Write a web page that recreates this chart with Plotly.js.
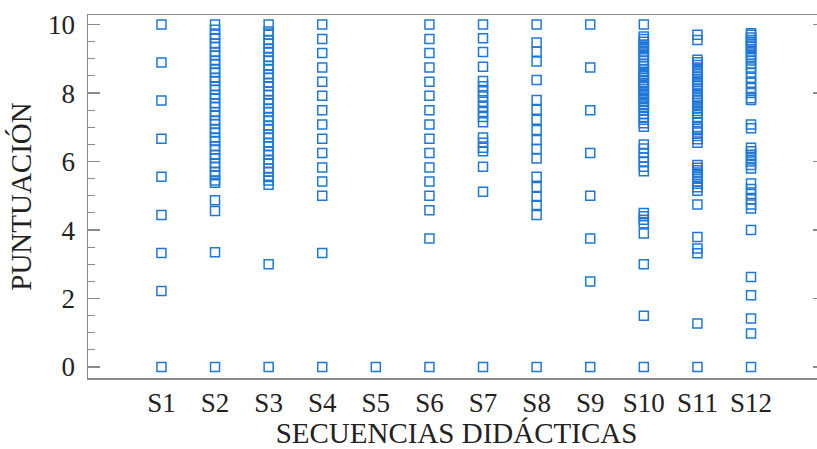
<!DOCTYPE html>
<html>
<head>
<meta charset="utf-8">
<script src="https://cdn.plot.ly/plotly-3.0.1.min.js"></script>
<style>
html,body{margin:0;padding:0;overflow:hidden;background:#fff;}
#chart{width:825px;height:449px;}
</style>
</head>
<body>
<div id="chart"></div>
<script>
const categories = ['S1','S2','S3','S4','S5','S6','S7','S8','S9','S10','S11','S12'];
const yTicks = [0, 2, 4, 6, 8, 10];

const s1 = [10, 8.89, 7.78, 6.67, 5.56, 4.44, 3.33, 2.22, 0];
const s2 = [10, 9.85, 9.7, 9.6, 9.45, 9.35, 9.2, 9.1, 8.95, 8.85, 8.7, 8.6, 8.45, 8.35, 8.2, 8.1, 7.95, 7.85, 7.7, 7.6, 7.45, 7.35, 7.2, 7.1, 6.95, 6.85, 6.7, 6.6, 6.45, 6.35, 6.2, 6.1, 5.95, 5.85, 5.7, 5.6, 5.45, 5.38, 4.87, 4.56, 3.35, 0];
const s3 = [10, 9.8, 9.7, 9.55, 9.45, 9.3, 9.2, 9.05, 8.95, 8.8, 8.7, 8.55, 8.45, 8.3, 8.2, 8.05, 7.95, 7.8, 7.7, 7.55, 7.45, 7.3, 7.2, 7.05, 6.95, 6.8, 6.7, 6.55, 6.45, 6.3, 6.2, 6.05, 5.95, 5.8, 5.7, 5.55, 5.45, 5.32, 3.0, 0];
const s4 = [10, 9.58, 9.17, 8.75, 8.33, 7.92, 7.5, 7.08, 6.67, 6.25, 5.83, 5.42, 5.0, 3.33, 0];
const s5 = [0];
const s6 = [10, 9.58, 9.17, 8.75, 8.33, 7.92, 7.5, 7.08, 6.67, 6.25, 5.83, 5.42, 5.0, 4.58, 3.75, 0];
const s7 = [10, 9.6, 9.2, 8.77, 8.35, 8.2, 8.05, 7.9, 7.75, 7.6, 7.45, 7.3, 7.15, 6.7, 6.55, 6.4, 6.3, 5.85, 5.12, 0];
const s8 = [10, 9.48, 9.21, 8.92, 8.38, 7.8, 7.51, 7.22, 6.92, 6.63, 6.37, 6.09, 5.56, 5.26, 4.97, 4.73, 4.44, 0];
const s9 = [10, 8.75, 7.5, 6.25, 5.0, 3.75, 2.5, 0];
const s10 = [10, 9.65, 9.58, 9.5, 9.42, 9.35, 9.28, 9.2, 9.12, 9.05, 8.95, 8.85, 8.78, 8.7, 8.62, 8.55, 8.5, 8.45, 8.38, 8.3, 8.25, 8.2, 8.12, 8.05, 7.98, 7.9, 7.82, 7.75, 7.68, 7.6, 7.5, 7.4, 7.3, 7.22, 7.12, 7.02, 6.5, 6.38, 6.25, 6.12, 6.0, 5.85, 5.72, 4.5, 4.4, 4.3, 4.2, 3.9, 3.0, 1.5, 0];
const s11 = [9.7, 9.55, 8.97, 8.9, 8.82, 8.75, 8.68, 8.6, 8.55, 8.48, 8.4, 8.33, 8.25, 8.2, 8.12, 8.05, 7.98, 7.9, 7.85, 7.78, 7.7, 7.62, 7.55, 7.48, 7.4, 7.3, 7.15, 7.0, 6.95, 6.85, 6.75, 6.65, 6.55, 5.9, 5.82, 5.75, 5.68, 5.6, 5.55, 5.5, 5.42, 5.35, 5.25, 5.15, 4.75, 3.8, 3.46, 3.32, 1.27, 0];
const s12 = [9.75, 9.7, 9.62, 9.55, 9.5, 9.42, 9.35, 9.28, 9.2, 9.12, 9.05, 8.95, 8.85, 8.75, 8.6, 8.45, 8.3, 8.15, 8.0, 7.85, 7.8, 7.08, 6.97, 6.4, 6.3, 6.2, 6.1, 6.0, 5.9, 5.8, 5.36, 5.2, 5.05, 4.9, 4.75, 4.63, 4.0, 2.63, 2.1, 1.42, 0.98, 0];

const series = [s1, s2, s3, s4, s5, s6, s7, s8, s9, s10, s11, s12];

const xs = [], ys = [];
series.forEach((vals, i) => {
  vals.forEach(v => { xs.push(categories[i]); ys.push(v); });
});

const blue = 'rgb(30,120,215)';
const axisGray = '#8a8a8a';
const serif = 'Liberation Serif';

const trace = {
  type: 'scatter',
  mode: 'markers',
  x: xs,
  y: ys,
  marker: {
    symbol: 'square-open',
    size: 9,
    color: blue,
    line: {color: blue, width: 1.5}
  },
  hoverinfo: 'x+y'
};

const layout = {
  width: 825,
  height: 449,
  margin: {l: 88, r: 0, t: 15, b: 71},
  paper_bgcolor: '#ffffff',
  plot_bgcolor: '#ffffff',
  showlegend: false,
  font: {family: serif, color: '#222'},
  xaxis: {
    type: 'category',
    categoryorder: 'array',
    categoryarray: categories,
    range: [-1.37, 12.38],
    showgrid: false,
    zeroline: false,
    showline: true,
    mirror: true,
    linecolor: axisGray,
    linewidth: 1.5,
    ticks: '',
    tickfont: {family: serif, size: 27, color: '#222'},
    title: {text: 'SECUENCIAS DIDÁCTICAS', font: {family: serif, size: 29, color: '#222'}, standoff: 5},
    automargin: false
  },
  yaxis: {
    range: [-0.32, 10.28],
    tickvals: yTicks,
    ticktext: yTicks.map(String),
    showgrid: false,
    zeroline: false,
    showline: true,
    mirror: 'ticks',
    linecolor: axisGray,
    linewidth: 1.5,
    ticks: 'inside',
    ticklen: 12,
    tickwidth: 1.3,
    tickcolor: axisGray,
    minor: {dtick: 0.5, tick0: 0, ticks: 'inside', ticklen: 7, tickwidth: 1, tickcolor: axisGray},
    tickfont: {family: serif, size: 27, color: '#222'},
    ticklabelstandoff: 6,
    title: {text: 'PUNTUACIÓN', font: {family: serif, size: 29, color: '#222'}, standoff: 8},
    automargin: false
  }
};

Plotly.newPlot('chart', [trace], layout, {displayModeBar: false, staticPlot: true});
</script>
</body>
</html>
